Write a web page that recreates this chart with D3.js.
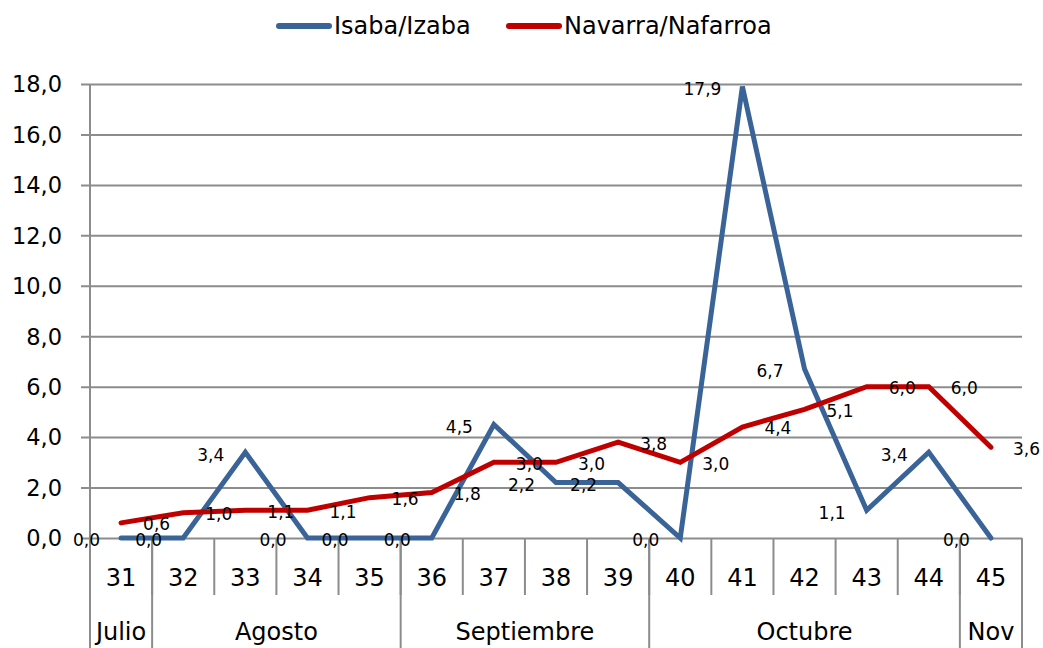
<!DOCTYPE html>
<html>
<head>
<meta charset="utf-8">
<script src="https://cdn.jsdelivr.net/npm/d3@7/dist/d3.min.js"></script>
<style>
html,body{margin:0;padding:0;background:#fff;}
svg{display:block;font-family:"DejaVu Sans",sans-serif;}
</style>
</head>
<body>
<svg id="chart" width="1043" height="648"></svg>
<script>
const weeks = ["31","32","33","34","35","36","37","38","39","40","41","42","43","44","45"];
const months = ["Julio","Agosto","Septiembre","Octubre","Nov"];
const monthSpans = [1,4,4,5,1];
const isaba = [0.0,0.0,3.4,0.0,0.0,0.0,4.5,2.2,2.2,0.0,17.9,6.7,1.1,3.4,0.0];
const navarra = [0.6,1.0,1.1,1.1,1.6,1.8,3.0,3.0,3.8,3.0,4.4,5.1,6.0,6.0,3.6];
const yTicks = [0,2,4,6,8,10,12,14,16,18];
const seriesNames = ["Isaba/Izaba","Navarra/Nafarroa"];
const seriesColors = ["#3a6497","#c00000"];

(function () {
const svg = d3.select("#chart");
const W = 1043, H = 648;
const pL = 90, pR = 1022, pT = 84, pB = 538;
const gridColor = "#8c8c8c";

const loc = d3.formatLocale({decimal: ",", thousands: ".", grouping: [3], currency: ["", "€"]});
const fmt = loc.format(".1f");

const x = d3.scaleBand().domain(weeks).range([pL, pR]).padding(0);
const bw = x.bandwidth();
const cx = w => x(w) + bw / 2;
const y = d3.scaleLinear().domain([0, 18]).range([pB, pT]);

svg.append("rect").attr("width", W).attr("height", H).attr("fill", "#fff");

// gridlines + y ticks
const yAxis = d3.axisLeft(y).tickValues(yTicks).tickSize(0).tickFormat(fmt);
const gy = svg.append("g").attr("transform", `translate(${pL},0)`).call(yAxis);
gy.select(".domain").remove();
gy.selectAll(".tick text").attr("x", -28).attr("dy", "0.35em")
  .attr("font-size", 22.5).attr("fill", "#000").attr("font-family", "DejaVu Sans");
gy.selectAll(".tick").append("line")
  .attr("x1", -9).attr("x2", pR - pL)
  .attr("stroke", gridColor).attr("stroke-width", 2);

// y axis line (extends through category area)
svg.append("line").attr("x1", pL).attr("x2", pL).attr("y1", pT).attr("y2", H)
  .attr("stroke", gridColor).attr("stroke-width", 2);

// category labels
const xAxis = d3.axisBottom(x).tickSize(0);
const gx = svg.append("g").attr("transform", `translate(0,${pB})`).call(xAxis);
gx.select(".domain").remove();
gx.selectAll(".tick text").attr("y", 40).attr("dy", "0.35em")
  .attr("font-size", 24).attr("fill", "#000").attr("font-family", "DejaVu Sans");
// tick boundaries
const boundaries = weeks.map(w => x(w)).concat([pR]);
svg.append("g").selectAll("line").data(boundaries.slice(1)).join("line")
  .attr("x1", d => d).attr("x2", d => d).attr("y1", pB).attr("y2", 595)
  .attr("stroke", gridColor).attr("stroke-width", 2);

// month groups
let idx = 0;
const mg = svg.append("g");
months.forEach((m, i) => {
  const start = x(weeks[idx]);
  const endIdx = idx + monthSpans[i] - 1;
  const end = x(weeks[endIdx]) + bw;
  mg.append("line").attr("x1", end).attr("x2", end).attr("y1", pB).attr("y2", H)
    .attr("stroke", gridColor).attr("stroke-width", 2);
  mg.append("text").attr("x", (start + end) / 2).attr("y", 632).attr("dy", "0.35em")
    .attr("text-anchor", "middle").attr("font-size", 24).attr("fill", "#000").text(m);
  idx = endIdx + 1;
});

// lines
const line = d3.line().x((d, i) => cx(weeks[i])).y(d => y(d));
[isaba, navarra].forEach((vals, si) => {
  svg.append("path").datum(vals).attr("d", line)
    .attr("fill", "none").attr("stroke", seriesColors[si]).attr("stroke-width", 5)
    .attr("stroke-linejoin", "miter").attr("stroke-linecap", "round");
});

// data labels
const lab = svg.append("g").attr("font-size", 17).attr("fill", "#000");
isaba.forEach((v, i) => {
  lab.append("text").attr("x", cx(weeks[i]) - 21).attr("y", y(v) + 2.5).attr("dy", "0.35em")
    .attr("text-anchor", "end").text(fmt(v));
});
navarra.forEach((v, i) => {
  lab.append("text").attr("x", cx(weeks[i]) + 22).attr("y", y(v) + 1.5).attr("dy", "0.35em")
    .attr("text-anchor", "start").text(fmt(v));
});

// legend
const legendX = [277, 507];
const lg = svg.append("g");
seriesNames.forEach((n, i) => {
  lg.append("line").attr("x1", legendX[i] + 2).attr("x2", legendX[i] + 52)
    .attr("y1", 26).attr("y2", 26).attr("stroke", seriesColors[i])
    .attr("stroke-width", 6).attr("stroke-linecap", "round");
  lg.append("text").attr("x", legendX[i] + 57).attr("y", 26).attr("dy", "0.35em")
    .attr("font-size", 24).attr("fill", "#000").text(n);
});
})();
</script>
</body>
</html>
